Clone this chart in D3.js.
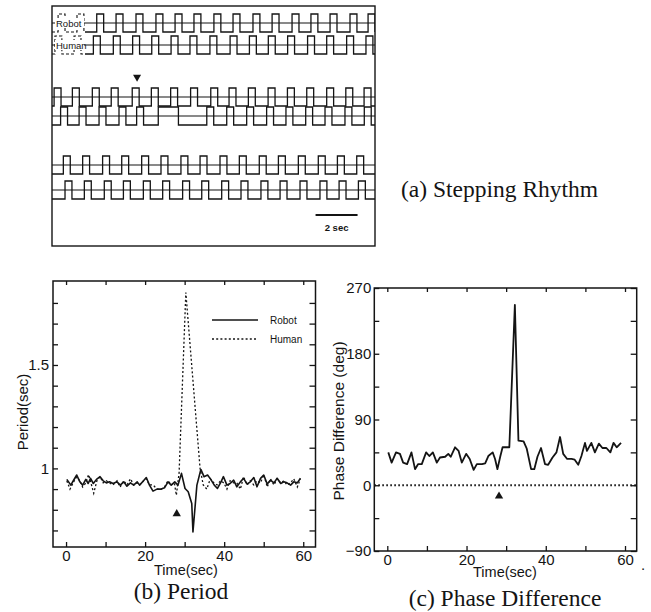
<!DOCTYPE html>
<html>
<head>
<meta charset="utf-8">
<script src="https://cdn.jsdelivr.net/npm/d3@7"></script>
<style>
  body { margin: 0; background: #fff; }
  svg { display: block; }
  .sans { font-family: "Liberation Sans", Arial, sans-serif; }
  .serif { font-family: "Liberation Serif", "Times New Roman", serif; }
</style>
</head>
<body>
<svg id="fig" width="651" height="612"></svg>
<script>
// ---- data ----

// (a) stepping rhythm, pulse onsets in seconds (each step pulse is high for pulseLen)
const stepWindow = 15.38;   // seconds shown across panel (a)
const pulseLen = 0.33;
const g1Robot = [0.29, 1.19, 2.13, 3.05, 4.0, 4.95, 5.86, 6.76, 7.71, 8.62, 9.57, 10.48, 11.43, 12.33, 13.24, 14.19, 15.05];
const g1Human = [0.14, 1.05, 1.97, 2.92, 3.84, 4.75, 5.67, 6.57, 7.52, 8.48, 9.4, 10.3, 11.22, 12.17, 13.08, 14.03, 14.95];
const g2Robot = [0.1, 0.97, 1.92, 2.82, 3.82, 4.73, 5.65, 6.6, 7.56, 8.43, 9.35, 10.29, 11.21, 12.13, 13.08, 13.99, 14.86];
const g2Human = [0.41, 1.29, 2.24, 3.19, 4.03, 5.06, 7.37, 8.32, 9.27, 10.22, 11.14, 12.08, 13.0, 13.95, 14.87];
const g2HumanLong = { onset: 5.06, offset: 6.02 };   // the one long step
const g3Robot = [0.54, 1.46, 2.41, 3.32, 4.27, 5.19, 6.14, 7.05, 8.0, 8.92, 9.87, 10.78, 11.73, 12.68, 13.59, 14.51];
const g3Human = [0.62, 1.54, 2.49, 3.4, 4.35, 5.27, 6.22, 7.13, 8.08, 9.0, 9.95, 10.86, 11.81, 12.76, 13.67, 14.59];
const perturbAt = 4.05;     // marker over group 2

// (b) period
const robotTime = [0.2,1.2,1.8,2.7,3.5,4.2,5.0,5.6,6.2,6.9,7.7,8.6,9.4,10.2,11.0,11.9,12.9,13.7,14.6,15.4,16.3,17.1,18.0,18.6,19.6,20.3,21.1,22.0,23.0,24.1,24.9,25.8,26.6,27.5,28.3,29.2,30.1,30.9,31.8,32.1,33.1,34.1,34.9,35.8,36.6,37.5,38.3,39.2,39.8,40.7,41.5,42.4,43.2,44.1,44.9,45.8,46.6,47.5,48.3,49.2,50.0,50.9,51.7,52.6,53.4,54.3,55.1,55.9,56.8,57.6,58.5,59.3];
const robotPeriod = [0.947,0.919,0.939,0.968,0.935,0.919,0.947,0.927,0.952,0.927,0.947,0.96,0.94,0.93,0.935,0.927,0.935,0.919,0.935,0.914,0.93,0.919,0.935,0.919,0.94,0.956,0.919,0.89,0.9,0.9,0.906,0.935,0.919,0.935,0.919,0.976,0.903,0.887,0.83,0.693,0.919,0.995,0.96,0.968,0.947,0.919,0.903,0.935,0.96,0.919,0.927,0.943,0.911,0.935,0.952,0.924,0.935,0.956,0.911,0.952,0.968,0.924,0.943,0.93,0.952,0.927,0.935,0.93,0.919,0.935,0.93,0.952];
const humanTime = [0.2,1.0,1.8,2.7,3.5,4.2,5.0,5.7,6.3,7.0,7.8,8.6,9.4,10.2,11.0,11.9,12.9,13.7,14.6,15.4,16.3,17.1,18.0,18.6,19.6,20.3,21.1,22.0,23.0,24.1,24.9,25.8,26.6,27.4,27.9,28.6,30.3,33.9,34.7,35.6,36.5,37.4,38.2,39.1,39.9,40.7,41.5,42.4,43.2,44.1,44.9,45.8,46.6,47.5,48.3,49.2,50.0,50.9,51.7,52.6,53.4,54.3,55.1,55.9,56.8,57.6,58.5,59.3];
const humanPeriod = [0.94,0.9,0.93,0.96,0.94,0.91,0.93,0.97,0.93,0.88,0.94,0.96,0.93,0.94,0.93,0.92,0.94,0.91,0.94,0.92,0.95,0.92,0.93,0.92,0.94,0.95,0.92,0.92,0.9,0.9,0.91,0.94,0.92,0.93,0.87,0.98,1.85,1.0,0.92,0.9,0.95,0.93,0.92,0.94,0.93,0.9,0.94,0.93,0.93,0.9,0.96,0.92,0.94,0.92,0.94,0.93,0.97,0.91,0.95,0.92,0.95,0.93,0.94,0.92,0.93,0.95,0.91,0.95];
const periodMarker = { t: 28, v: 0.78 };

// (c) phase difference
const phaseTime = [0.25,1.1,2.2,3.2,4.0,5.0,6.1,7.0,7.8,8.7,9.8,10.6,11.5,12.5,13.3,14.6,15.4,16.0,17.1,18.0,18.8,19.9,20.8,21.8,22.6,23.9,24.7,25.5,26.6,27.2,27.8,28.5,29.1,30.0,30.8,32.2,33.1,34.4,35.2,36.3,37.1,37.9,38.8,39.8,40.6,41.7,42.7,43.6,44.4,45.4,46.5,47.3,48.2,49.0,49.9,50.4,51.5,52.4,53.4,54.3,55.3,56.3,57.1,57.9,59.0];
const phaseDeg = [45,31,45,43,31,29,45,22,29,29,45,40,45,31,38,39,43,39,52,47,31,43,36,21,29,29,30,40,45,36,22,39,52,52,52,247,61,60,50,22,22,39,51,29,28,38,45,66,43,36,36,35,28,40,58,47,58,45,57,51,51,45,58,52,58];
const phaseMarker = { t: 28.2, v: -15 };

// ticks
const timeTicks = [0, 20, 40, 60];
const timeMinor = [0, 10, 20, 30, 40, 50, 60];
const periodTicks = [1, 1.5];
const periodMinor = [0.7, 0.8, 0.9, 1.0, 1.1, 1.2, 1.3, 1.4, 1.5, 1.6, 1.7, 1.8];
const phaseTicks = [-90, 0, 90, 180, 270];
const phaseMinor = [-90, -45, 0, 45, 90, 135, 180, 225, 270];

// ---- drawing ----
const ink = "#141414";
const svg = d3.select("#fig");
const defs = svg.append("defs");

// ========== (a) Stepping Rhythm ==========
const xs = d3.scaleLinear().domain([0, stepWindow]).range([52, 375]);

svg.append("rect")
  .attr("x", 52).attr("y", 6).attr("width", 323).attr("height", 240)
  .attr("fill", "none").attr("stroke", ink).attr("stroke-width", 1.4);

defs.append("clipPath").attr("id", "clipA")
  .append("rect").attr("x", 52).attr("y", 6).attr("width", 323).attr("height", 240);
defs.append("clipPath").attr("id", "clipLabel")
  .append("rect").attr("x", 52).attr("y", 6).attr("width", 33).attr("height", 60);
defs.append("clipPath").attr("id", "clipAfterLabel")
  .append("rect").attr("x", 85).attr("y", 6).attr("width", 290).attr("height", 60);

// build the square wave for one trace
function wavePoints(onsets, longPulse) {
  const pts = [[0, 0]];
  onsets.forEach(on => {
    let off = on + pulseLen;
    if (longPulse && on === longPulse.onset) off = longPulse.offset;
    pts.push([on, 0], [on, 1], [off, 1], [off, 0]);
  });
  pts.push([stepWindow, 0]);
  return pts;
}

const rows = [
  { pulses: g1Robot, mid: 23, label: "Robot" },
  { pulses: g1Human, mid: 45, label: "Human" },
  { pulses: g2Robot, mid: 97 },
  { pulses: g2Human, mid: 116, long: g2HumanLong },
  { pulses: g3Robot, mid: 165 },
  { pulses: g3Human, mid: 190 }
];

const gA = svg.append("g").attr("clip-path", "url(#clipA)");
rows.forEach(r => {
  const yLevel = d3.scaleLinear().domain([0, 1]).range([r.mid + 9, r.mid - 9]);
  const line = d3.line().x(d => xs(d[0])).y(d => yLevel(d[1]));
  const pts = wavePoints(r.pulses, r.long);

  // reference midline
  gA.append("line")
    .attr("x1", 52).attr("x2", 375).attr("y1", r.mid).attr("y2", r.mid)
    .attr("stroke", ink).attr("stroke-width", 1.1);

  if (r.label) {
    gA.append("path").attr("d", line(pts)).attr("clip-path", "url(#clipAfterLabel)")
      .attr("fill", "none").attr("stroke", ink).attr("stroke-width", 1.3);
    gA.append("path").attr("d", line(pts)).attr("clip-path", "url(#clipLabel)")
      .attr("fill", "none").attr("stroke", ink).attr("stroke-width", 1.1)
      .attr("stroke-dasharray", "3,2");
    gA.append("rect").attr("x", 55).attr("y", r.mid - 5).attr("width", 29).attr("height", 10)
      .attr("fill", "#fff");
    gA.append("text").attr("class", "sans")
      .attr("x", 56).attr("y", r.mid + 3.5)
      .attr("font-size", 9.5).attr("fill", ink)
      .text(r.label);
  } else {
    gA.append("path").attr("d", line(pts))
      .attr("fill", "none").attr("stroke", ink).attr("stroke-width", 1.3);
  }
});

// perturbation marker over group 2
svg.append("path")
  .attr("d", d3.symbol(d3.symbolTriangle, 28)())
  .attr("transform", `translate(${xs(perturbAt)},77) rotate(180)`)
  .attr("fill", ink);

// 2 sec scale bar
svg.append("line")
  .attr("x1", xs(12.55)).attr("x2", xs(14.55)).attr("y1", 215).attr("y2", 215)
  .attr("stroke", ink).attr("stroke-width", 2);
svg.append("text").attr("class", "sans")
  .attr("x", (xs(12.55) + xs(14.55)) / 2).attr("y", 231)
  .attr("text-anchor", "middle").attr("font-size", 9.5).attr("font-weight", "bold")
  .attr("fill", ink).text("2 sec");

svg.append("text").attr("class", "serif")
  .attr("x", 401).attr("y", 197)
  .attr("font-size", 23.5).attr("fill", ink)
  .text("(a) Stepping Rhythm");

// ---------- helper for framed plots ----------
function framedAxes(g, x, y, opts) {
  const [x0, x1] = x.range();
  const [y0, y1] = y.range();   // y0 bottom, y1 top
  g.append("rect")
    .attr("x", x0).attr("y", y1).attr("width", x1 - x0).attr("height", y0 - y1)
    .attr("fill", "none").attr("stroke", ink).attr("stroke-width", 1.5);

  const style = sel => {
    sel.select(".domain").remove();
    sel.selectAll(".tick line").attr("stroke", ink).attr("stroke-width", 1.3);
    sel.selectAll(".tick text").attr("fill", ink)
      .attr("font-family", '"Liberation Sans", Arial, sans-serif').attr("font-size", 15);
  };

  g.append("g").attr("transform", `translate(0,${y0})`)
    .call(d3.axisBottom(x).tickValues(timeMinor).tickSize(-5).tickPadding(3)
      .tickFormat(d => timeTicks.includes(d) ? d : ""))
    .call(style);
  g.append("g").attr("transform", `translate(0,${y1})`)
    .call(d3.axisTop(x).tickValues(timeMinor).tickSize(-4).tickFormat(""))
    .call(style);
  g.append("g").attr("transform", `translate(${x0},0)`)
    .call(d3.axisLeft(y).tickValues(opts.minor).tickSize(-5).tickPadding(opts.pad)
      .tickFormat(d => opts.major.some(m => Math.abs(m - d) < 1e-9) ? d3.format("")(d) : ""))
    .call(style);
  g.append("g").attr("transform", `translate(${x1},0)`)
    .call(d3.axisRight(y).tickValues(opts.minor).tickSize(-6).tickFormat(""))
    .call(style);
}

function marker(g, x, y, m) {
  g.append("path")
    .attr("d", d3.symbol(d3.symbolTriangle, 30)())
    .attr("transform", `translate(${x(m.t)},${y(m.v)})`)
    .attr("fill", ink);
}

// ========== (b) Period ==========
const xb = d3.scaleLinear().domain([-3.3, 63.1]).range([53, 315.5]);
const yb = d3.scaleLinear().domain([0.62, 1.906]).range([547, 281]);
const gB = svg.append("g");
framedAxes(gB, xb, yb, { minor: periodMinor, major: periodTicks, pad: 4 });

const lineB = d3.line().x(d => xb(d[0])).y(d => yb(d[1]));
gB.append("path")
  .attr("d", lineB(d3.zip(humanTime, humanPeriod)))
  .attr("fill", "none").attr("stroke", ink).attr("stroke-width", 1.3)
  .attr("stroke-dasharray", "2,2.2");
gB.append("path")
  .attr("d", lineB(d3.zip(robotTime, robotPeriod)))
  .attr("fill", "none").attr("stroke", ink).attr("stroke-width", 1.6)
  .attr("stroke-linejoin", "round");
marker(gB, xb, yb, periodMarker);

// legend
const legend = gB.append("g").attr("class", "sans");
[["Robot", null, 320], ["Human", "2,2.2", 339]].forEach(([name, dash, ly]) => {
  legend.append("line")
    .attr("x1", 212).attr("x2", 258).attr("y1", ly).attr("y2", ly)
    .attr("stroke", ink).attr("stroke-width", 1.3)
    .attr("stroke-dasharray", dash);
  legend.append("text")
    .attr("x", 270).attr("y", ly + 3.8)
    .attr("font-size", 10).attr("fill", ink).text(name);
});

gB.append("text").attr("class", "sans")
  .attr("transform", "translate(28,412) rotate(-90)")
  .attr("text-anchor", "middle").attr("font-size", 15).attr("fill", ink)
  .text("Period(sec)");
gB.append("text").attr("class", "sans")
  .attr("x", 186).attr("y", 575)
  .attr("text-anchor", "middle").attr("font-size", 14.5).attr("fill", ink)
  .text("Time(sec)");
gB.append("text").attr("class", "serif")
  .attr("x", 181).attr("y", 599)
  .attr("text-anchor", "middle").attr("font-size", 23.5).attr("fill", ink)
  .text("(b) Period");

// ========== (c) Phase Difference ==========
const xc = d3.scaleLinear().domain([-3.28, 62.95]).range([374.3, 636.7]);
const yc = d3.scaleLinear().domain([-90, 270]).range([551, 288]);
const gC = svg.append("g");
framedAxes(gC, xc, yc, { minor: phaseMinor, major: phaseTicks, pad: 3 });

gC.append("line")
  .attr("x1", xc.range()[0]).attr("x2", xc.range()[1])
  .attr("y1", yc(0)).attr("y2", yc(0))
  .attr("stroke", ink).attr("stroke-width", 1.8)
  .attr("stroke-dasharray", "1.6,2.4");

const lineC = d3.line().x(d => xc(d[0])).y(d => yc(d[1]));
gC.append("path")
  .attr("d", lineC(d3.zip(phaseTime, phaseDeg)))
  .attr("fill", "none").attr("stroke", ink).attr("stroke-width", 1.8)
  .attr("stroke-linejoin", "round");
marker(gC, xc, yc, phaseMarker);

gC.append("text").attr("class", "sans")
  .attr("transform", "translate(344,421) rotate(-90)")
  .attr("text-anchor", "middle").attr("font-size", 15.5).attr("fill", ink)
  .text("Phase Difference (deg)");
gC.append("text").attr("class", "sans")
  .attr("x", 505).attr("y", 577)
  .attr("text-anchor", "middle").attr("font-size", 14.5).attr("fill", ink)
  .text("Time(sec)");
gC.append("text").attr("class", "sans")
  .attr("x", 641).attr("y", 570)
  .attr("font-size", 15).attr("fill", ink).text(".");
gC.append("text").attr("class", "serif")
  .attr("x", 505).attr("y", 606)
  .attr("text-anchor", "middle").attr("font-size", 23.5).attr("fill", ink)
  .text("(c) Phase Difference");
</script>
</body>
</html>
